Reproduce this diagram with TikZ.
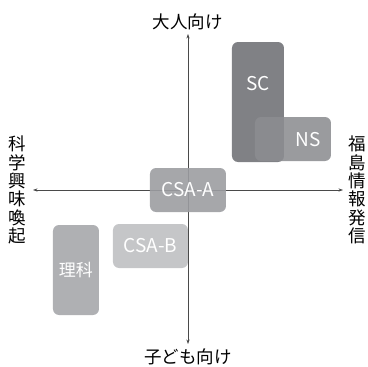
\documentclass[tikz,border=0pt]{standalone}
\usepackage{fontspec}
\setmainfont{Noto Sans CJK JP}
\usetikzlibrary{arrows.meta}
\definecolor{cSC}{HTML}{808185}
\definecolor{cNS}{HTML}{8C8D91}
\definecolor{cA}{HTML}{9C9DA1}
\definecolor{cB}{HTML}{C0C1C3}
\definecolor{cR}{HTML}{AFB0B3}
\definecolor{axc}{HTML}{4A4A4A}
\tikzset{
  box/.style={rectangle, rounded corners=6pt, inner sep=0pt, text=white,
    font=\fontsize{19}{20}\selectfont},
  boxtext/.style={text=white, font=\fontsize{19}{20}\selectfont, inner sep=0pt},
  axis/.style={draw=axc, line width=0.6pt, -{Stealth[length=4.5pt,width=3.2pt]}},
  axlabel/.style={font=\fontsize{17.5}{18}\selectfont, text=black, inner sep=0pt},
  vlabel/.style={font=\fontsize{17.5}{18.3}\selectfont, text=black, inner sep=0pt, align=center},
}
\begin{document}
\begin{tikzpicture}[x=1pt,y=-1pt]
\useasboundingbox (0,0) rectangle (368,367);
% axes
\coordinate (O) at (188,190);
\coordinate (top) at (188,34);
\coordinate (bot) at (188,344);
\coordinate (lft) at (33,190);
\coordinate (rgt) at (343,190);
\draw[axis] (O) -- (top);
\draw[axis] (O) -- (bot);
\draw[axis] (O) -- (lft);
\draw[axis] (O) -- (rgt);
% boxes
\node[box, fill=cSC, minimum width=52pt, minimum height=120pt] (sc) at (258,102) {};
\node[boxtext] (sct) at (258,84) {SC};
\node[box, fill=cNS, fill opacity=0.88, text opacity=1, minimum width=76pt, minimum height=44pt] (ns) at (293,139) {};
\node[boxtext] (nst) at (308,140) {NS};
\node[box, fill=cA, fill opacity=0.9, text opacity=1, minimum width=76pt, minimum height=44pt] (csaa) at (188,190) {CSA-A};
\node[box, fill=cB, fill opacity=0.92, text opacity=1, minimum width=75pt, minimum height=44pt] (csab) at (150.5,246) {CSA-B};
\node[box, fill=cR, minimum width=46pt, minimum height=90pt, font=\fontsize{17}{18}\selectfont] (rika) at (76,270) {理科};
% labels
\node[axlabel] (tl) at (188,22) {大人向け};
\node[axlabel] (bl) at (188,357) {子ども向け};
\node[vlabel] (ll) at (17,190) {科\\学\\興\\味\\喚\\起};
\node[vlabel] (rl) at (357,190) {福\\島\\情\\報\\発\\信};
\end{tikzpicture}
\end{document}
